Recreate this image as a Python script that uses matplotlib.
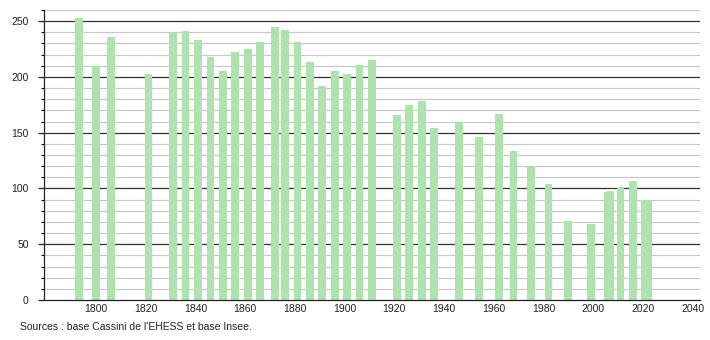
import matplotlib
matplotlib.use("Agg")
import matplotlib.pyplot as plt
from matplotlib.ticker import MultipleLocator

years = [1793, 1800, 1806, 1821, 1831, 1836, 1841, 1846, 1851, 1856, 1861, 1866,
         1872, 1876, 1881, 1886, 1891, 1896, 1901, 1906, 1911, 1921, 1926, 1931,
         1936, 1946, 1954, 1962, 1968, 1975, 1982, 1990, 1999, 2006, 2007, 2011,
         2016, 2021, 2022]
population = [253, 210, 236, 203, 239, 241, 233, 218, 205, 222, 225, 231,
              245, 242, 231, 213, 192, 205, 203, 211, 215, 166, 175, 178,
              154, 160, 146, 167, 134, 119, 104, 71, 68, 97, 98, 101,
              107, 90, 90]
xticks = list(range(1800, 2041, 20))
source_text = "Sources : base Cassini de l'EHESS et base Insee."

plt.rcParams['font.family'] = ['Liberation Sans', 'DejaVu Sans']

fig = plt.figure(figsize=(7.1, 3.4), dpi=100)
ax = fig.add_axes([44/710, 1-300/340, (700-44)/710, 290/340])

ax.set_xlim(1779, 2043)
ax.set_ylim(0, 260)

# gridlines
for v in range(10, 261, 10):
    if v % 50 == 0:
        ax.axhline(v, color='#333333', lw=0.9, zorder=1)
    else:
        ax.axhline(v, color='#c8c8c8', lw=0.9, zorder=1)

ax.bar(years, population, width=3.1, color='#aee3ae', edgecolor='none', zorder=2)

ax.set_xticks(xticks)
ax.set_xticklabels([str(x) for x in xticks])
ax.yaxis.set_major_locator(MultipleLocator(50))
ax.yaxis.set_minor_locator(MultipleLocator(10))
ax.tick_params(axis='x', length=0, pad=3, labelsize=7.5, colors='#222222')
ax.tick_params(axis='y', which='major', length=4, width=0.9, pad=7, labelsize=7.5, colors='#222222')
ax.tick_params(axis='y', which='minor', length=2, width=0.8)
for lbl in ax.get_xticklabels() + ax.get_yticklabels():
    lbl.set_color('#222222')

for s in ['top', 'right']:
    ax.spines[s].set_visible(False)
ax.spines['left'].set_color('#222222')
ax.spines['bottom'].set_color('#222222')
ax.spines['left'].set_linewidth(0.9)
ax.spines['bottom'].set_linewidth(0.9)

fig.text(20/710, 1-330/340, source_text, fontsize=7.5, color='#222222', va='baseline')

fig.savefig("out.png", dpi=100)
